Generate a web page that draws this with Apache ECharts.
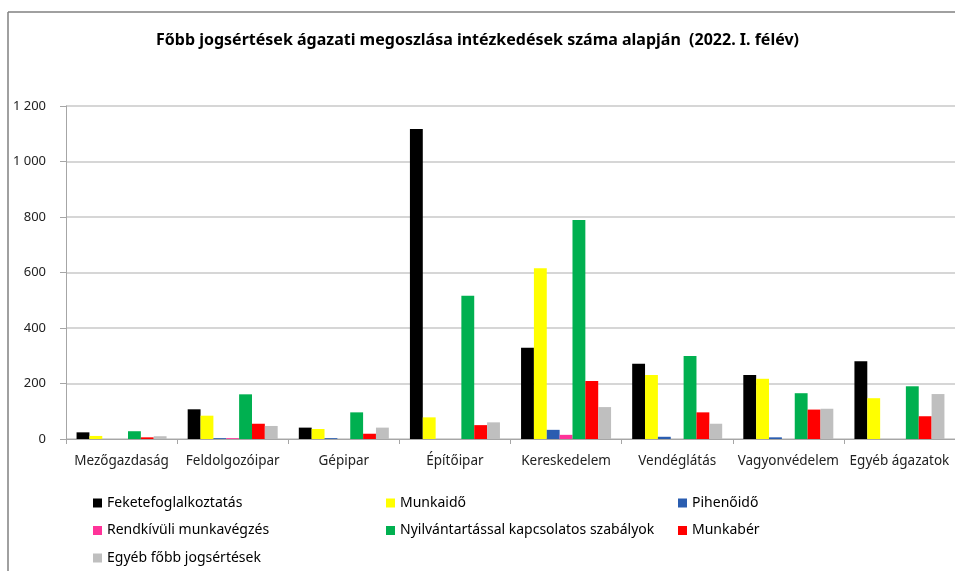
<!DOCTYPE html>
<html>
<head>
<meta charset="utf-8">
<script src="https://cdn.jsdelivr.net/npm/echarts@6/dist/echarts.min.js"></script>
<style>
  html, body { margin: 0; padding: 0; background: #fff; }
  #chart { width: 955px; height: 571px; }
</style>
</head>
<body>
<div id="chart"></div>
<script>
const categories = ["Mezőgazdaság", "Feldolgozóipar", "Gépipar", "Építőipar", "Kereskedelem", "Vendéglátás", "Vagyonvédelem", "Egyéb ágazatok"]

const feketefoglalkoztatas = [24, 107, 41, 1117, 329, 271, 231, 280]
const munkaido = [11, 84, 36, 78, 615, 231, 217, 147]
const pihenoido = [0, 3, 3, 0, 33, 8, 6, 0]
const rendkivuli = [0, 3, 0, 0, 15, 0, 0, 0]
const nyilvantartas = [28, 161, 96, 516, 789, 299, 165, 190]
const munkaber = [6, 55, 19, 50, 209, 96, 106, 82]
const egyeb = [10, 47, 41, 60, 115, 55, 109, 162]

const yTicks = [0, 200, 400, 600, 800, 1000, 1200]

const seriesDefs = [
  { name: "Feketefoglalkoztatás", data: feketefoglalkoztatas, color: "#000000" },
  { name: "Munkaidő", data: munkaido, color: "#ffff00" },
  { name: "Pihenőidő", data: pihenoido, color: "#2a5db0" },
  { name: "Rendkívüli munkavégzés", data: rendkivuli, color: "#ff3399" },
  { name: "Nyilvántartással kapcsolatos szabályok", data: nyilvantartas, color: "#00b050" },
  { name: "Munkabér", data: munkaber, color: "#ff0000" },
  { name: "Egyéb főbb jogsértések", data: egyeb, color: "#bfbfbf" },
]

const font = "Noto Sans"
const chart = echarts.init(document.getElementById("chart"))

// legend in three columns, like the original
function legendCol(left, names) {
  return {
    orient: "vertical",
    left: left,
    top: 491,
    itemWidth: 9,
    itemHeight: 9,
    itemGap: 13.5,
    icon: "rect",
    data: names,
    textStyle: { fontFamily: font, fontSize: 14, color: "#000" },
  }
}

const option = {
  animation: false,
  title: {
    text: "Főbb jogsértések ágazati megoszlása intézkedések száma alapján  (2022. I. félév)",
    left: "center",
    top: 27,
    textStyle: { fontFamily: font, fontSize: 16, fontWeight: "bold", color: "#000" },
  },
  legend: [
    legendCol(88, ["Feketefoglalkoztatás", "Rendkívüli munkavégzés", "Egyéb főbb jogsértések"]),
    legendCol(381, ["Munkaidő", "Nyilvántartással kapcsolatos szabályok"]),
    legendCol(673, ["Pihenőidő", "Munkabér"]),
  ],
  grid: { left: 66, right: -6, top: 106, bottom: 132, containLabel: false },
  xAxis: {
    type: "category",
    data: categories,
    axisLine: { show: true, lineStyle: { color: "#a6a6a6" } },
    axisTick: { show: true, length: 5, lineStyle: { color: "#a6a6a6" } },
    axisLabel: { interval: 0, color: "#222", fontFamily: font, fontSize: 13.5, margin: 15 },
  },
  yAxis: {
    type: "value",
    min: yTicks[0],
    max: yTicks[yTicks.length - 1],
    interval: 200,
    axisLine: { show: true, lineStyle: { color: "#a6a6a6" } },
    axisTick: { show: true, length: 6, lineStyle: { color: "#a6a6a6" } },
    splitLine: { show: true, lineStyle: { color: "#c8c8c8", width: 1.5 } },
    axisLabel: {
      color: "#222",
      fontFamily: font,
      fontSize: 13,
      margin: 20,
      formatter: (v) => String(v).replace(/\B(?=(\d{3})+(?!\d))/g, " "),
    },
  },
  graphic: [
    { type: "line", shape: { x1: 8, y1: 12, x2: 960, y2: 12 }, style: { stroke: "#808080", lineWidth: 1.5 } },
    { type: "line", shape: { x1: 8, y1: 12, x2: 8, y2: 575 }, style: { stroke: "#808080", lineWidth: 1.5 } },
  ],
  series: seriesDefs.map((s) => ({
    name: s.name,
    type: "bar",
    data: s.data,
    barGap: "0%",
    barCategoryGap: "19%",
    itemStyle: { color: s.color },
  })),
}

chart.setOption(option)
</script>
</body>
</html>
